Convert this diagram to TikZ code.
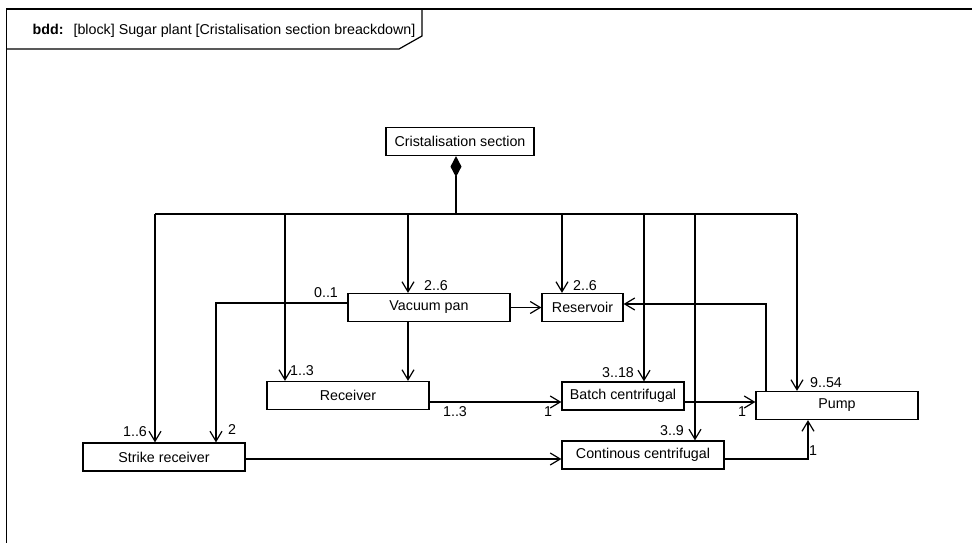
\documentclass[tikz,border=0pt]{standalone}
\usepackage{fontspec}
\setmainfont{Liberation Sans}
\usetikzlibrary{arrows.meta}
\begin{document}
\begin{tikzpicture}[x=0.75pt,y=-0.75pt,line width=0.9pt,
  every node/.style={font=\fontsize{10.7}{12}\selectfont},
  block/.style={draw, fill=white, minimum height=21pt, inner sep=0pt},
  mult/.style={inner sep=0pt},
  part/.style={-{Straight Barb[length=7.5pt,width=9pt]}},
  assoc/.style={-{Straight Barb[length=7.5pt,width=9pt]}}]
\useasboundingbox (0,0) rectangle (972,543);
\clip (0,0) rectangle (972,543);
% frame and heading
\draw (6.5,600) -- (6.5,9) -- (1000,9);
\draw (6.5,49) -- (399,49) -- (422,36) -- (422,9);
\node [anchor=base west, inner sep=0pt] (kind) at (32,34) {\textbf{bdd:}};
\node [anchor=base west, inner sep=0pt] (title) at (73,34) {[block] Sugar plant [Cristalisation section breackdown]};
% blocks
\node [block, minimum width=111pt] (cs) at (460,141.5) {Cristalisation section};
\node [block, minimum width=121.5pt] (vp) at (429,307.5) {Vacuum pan};
\node [block, minimum width=60.75pt] (res) at (582.5,307.5) {Reservoir};
\node [block, minimum width=121.5pt] (rcv) at (348,395.5) {Receiver};
\node [block, minimum width=91.5pt] (bc) at (623,396) {Batch centrifugal};
\node [block, minimum width=121.5pt] (pump) at (837,405.5) {Pump};
\node [block, minimum width=121.5pt] (sr) at (164,457) {Strike receiver};
\node [block, minimum width=121.5pt] (cc) at (643,455) {Continous centrifugal};
% composition
\coordinate (hub) at (456,214);
\coordinate (d1) at (155,214);
\coordinate (d2) at (285,214);
\coordinate (d3) at (408,214);
\coordinate (d4) at (562,214);
\coordinate (d5) at (644,214);
\coordinate (d6) at (695,214);
\coordinate (d7) at (797,214);
\draw [{Diamond[length=15.75pt,width=8.25pt]}-] (cs.south -| hub) -- (hub);
\draw (d1) -- (d7);
\draw [part] (d1) -- (d1 |- sr.north);
\draw [part] (d2) -- (d2 |- rcv.north);
\draw [part] (d3) -- (d3 |- vp.north);
\draw [part] (d4) -- (d4 |- res.north);
\draw [part] (d5) -- (d5 |- bc.north);
\draw [part] (d6) -- (d6 |- cc.north);
\draw [part] (d7) -- (d7 |- pump.north);
\node [mult] (m1) at (135,432) {1..6};
\node [mult] (m2) at (302,371) {1..3};
\node [mult] (m3) at (436,286) {2..6};
\node [mult] (m4) at (585,286) {2..6};
\node [mult] (m5) at (618,373) {3..18};
\node [mult] (m6) at (672,431) {3..9};
\node [mult] (m7) at (826,383) {9..54};
% associations
\coordinate (k1) at (216,303);
\coordinate (k2) at (766,304);
\coordinate (k3) at (808,459);
\coordinate (k4) at (700,402);
\draw [assoc] (vp.west |- k1) -- (k1) -- (k1 |- sr.north);
\draw [assoc] (vp.east) -- (res.west);
\draw [assoc] (vp.south -| d3) -- (d3 |- rcv.north);
\draw [assoc] (rcv.east |- k4) -- (bc.west |- k4);
\draw [assoc] (bc.east |- k4) -- (pump.west |- k4);
\draw [assoc] (pump.north -| k2) -- (k2) -- (res.east |- k2);
\draw [assoc] (sr.east |- k3) -- (cc.west |- k3);
\draw [assoc] (cc.east |- k3) -- (k3) -- (k3 |- pump.south);
\node [mult] (a1) at (326,293) {0..1};
\node [mult] (a2) at (232,430) {2};
\node [mult] (a3) at (455,412) {1..3};
\node [mult] (a4) at (548,412) {1};
\node [mult] (a5) at (742,412) {1};
\node [mult] (a6) at (813,451) {1};
\end{tikzpicture}
\end{document}
